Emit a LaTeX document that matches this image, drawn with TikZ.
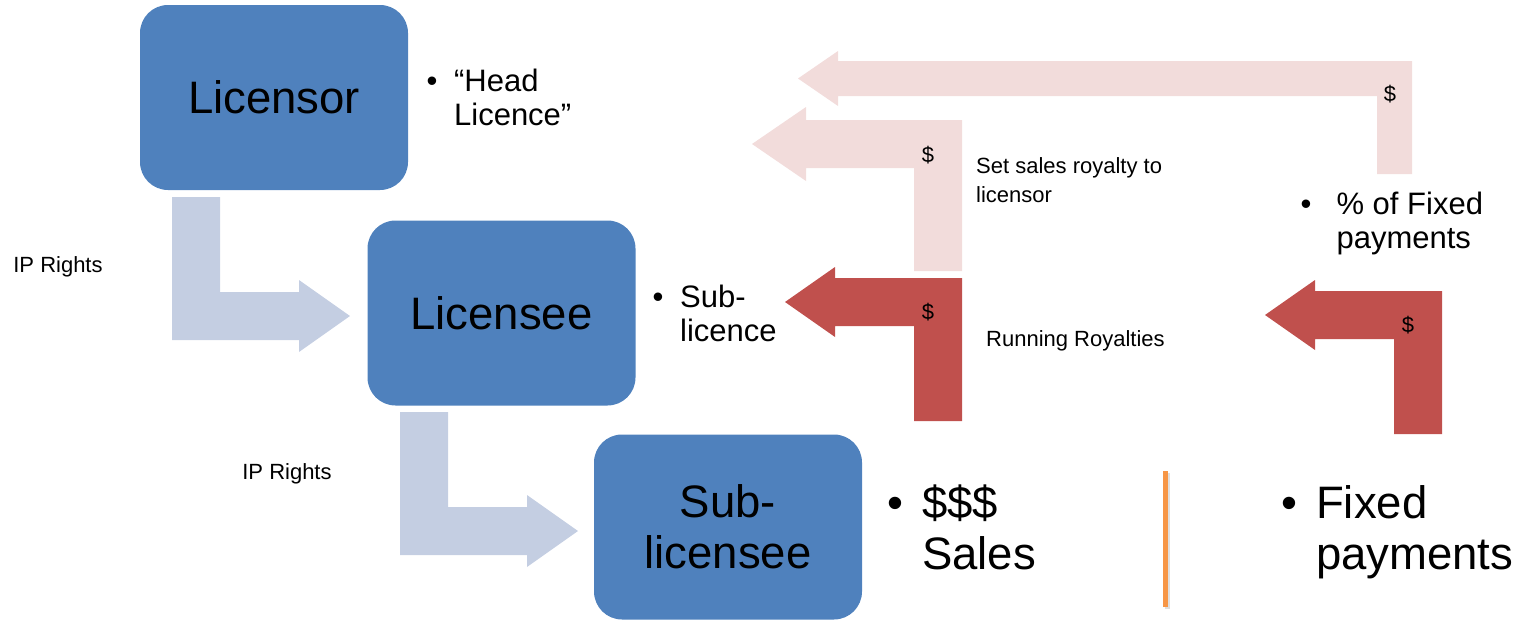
\documentclass[tikz,border=0pt]{standalone}
\usepackage{fontspec}
\setmainfont{Liberation Sans}
\definecolor{boxblue}{RGB}{79,129,189}
\definecolor{ipblue}{RGB}{196,206,226}
\definecolor{royred}{RGB}{192,80,77}
\definecolor{palered}{RGB}{242,220,219}
\definecolor{divider}{RGB}{247,150,70}
% bullet point with a hanging second line
\newcommand\twoline[3]{\begin{tabular}{@{}l@{\hspace{#1}}l@{}}\textbullet & #2\\ & #3\end{tabular}}
\tikzset{
  party/.style={fill=boxblue, rounded corners=28pt, minimum width=268pt,
    minimum height=185pt, inner sep=0pt, align=center,
    font=\fontsize{45.5}{51}\selectfont},
  rightsflow/.style={fill=ipblue},
  royaltyflow/.style={fill=royred},
  shareflow/.style={fill=palered},
  note/.style={font=\fontsize{22}{29}\selectfont, align=left, inner sep=0pt},
  dollar/.style={font=\fontsize{22}{22}\selectfont, inner sep=0pt},
  miditem/.style={font=\fontsize{31}{34}\selectfont, inner sep=0pt, anchor=west},
  bigitem/.style={font=\fontsize{45.5}{51}\selectfont, inner sep=0pt, anchor=west},
}
\begin{document}
\begin{tikzpicture}[x=1pt,y=-1pt]
\useasboundingbox (0,0) rectangle (1519,621);

% parties
\node[party] (licensor) at (274,97.5) {Licensor};
\node[party] (licensee) at (501.5,313) {Licensee};
\node[party] (sublicensee) at (728,527) {Sub-\\licensee};

% IP rights flowing down the chain
\fill[rightsflow] (172,197) -- (220,197) -- (220,292) -- (299,292) -- (299,280)
  -- (350,316) -- (299,352) -- (299,340) -- (172,340) -- cycle;
\begin{scope}[shift={(228,215)}]
\fill[rightsflow] (172,197) -- (220,197) -- (220,292) -- (299,292) -- (299,280)
  -- (350,316) -- (299,352) -- (299,340) -- (172,340) -- cycle;
\end{scope}
\node[note] (iprights1) at (58,267) {IP Rights};
\node[note] (iprights2) at (287,474) {IP Rights};

% royalties flowing back up
\fill[royaltyflow] (962,421) -- (962,278) -- (835,278) -- (835,267) -- (785,302)
  -- (835,337) -- (835,326) -- (914,326) -- (914,421) -- cycle;
\begin{scope}[shift={(480,13)}]
\fill[royaltyflow] (962,421) -- (962,278) -- (835,278) -- (835,267) -- (785,302)
  -- (835,337) -- (835,326) -- (914,326) -- (914,421) -- cycle;
\end{scope}
\fill[shareflow] (962,271) -- (962,120) -- (806,120) -- (806,107) -- (752,144)
  -- (806,181) -- (806,168) -- (914,168) -- (914,271) -- cycle;
\fill[shareflow] (1412,174) -- (1412,61) -- (838,61) -- (838,51) -- (798,78.5)
  -- (838,106) -- (838,96) -- (1377,96) -- (1377,174) -- cycle;

\node[dollar] (d1) at (928,155) {\$};
\node[dollar] (d2) at (1390,94) {\$};
\node[dollar] (d3) at (928,312) {\$};
\node[dollar] (d4) at (1408,325) {\$};

\node[note, anchor=west] (setroyalty) at (976,180) {Set sales royalty to\\licensor};
\node[note, anchor=west] (running) at (986,341) {Running Royalties};

% bullet notes
\node[miditem] (head) at (426.5,102) {\twoline{16.6pt}{“Head}{Licence”}};
\node[miditem] (sublic) at (652.5,318) {\twoline{16.6pt}{Sub-}{licence}};
\node[miditem] (pctfixed) at (1300.5,225) {\twoline{25pt}{\% of Fixed}{payments}};
\node[bigitem] (sales) at (887,534) {\twoline{19pt}{\$\$\$}{Sales}};
\node[bigitem] (fixed) at (1281,534) {\twoline{19pt}{Fixed}{payments}};

% divider
\coordinate (divtop) at (1165.5,471);
\coordinate (divbot) at (1165.5,607);
\draw[black!25, line width=5pt, opacity=0.5] ([shift={(2,2)}]divtop) -- ([shift={(2,2)}]divbot);
\draw[divider, line width=5pt] (divtop) -- (divbot);
\end{tikzpicture}
\end{document}
